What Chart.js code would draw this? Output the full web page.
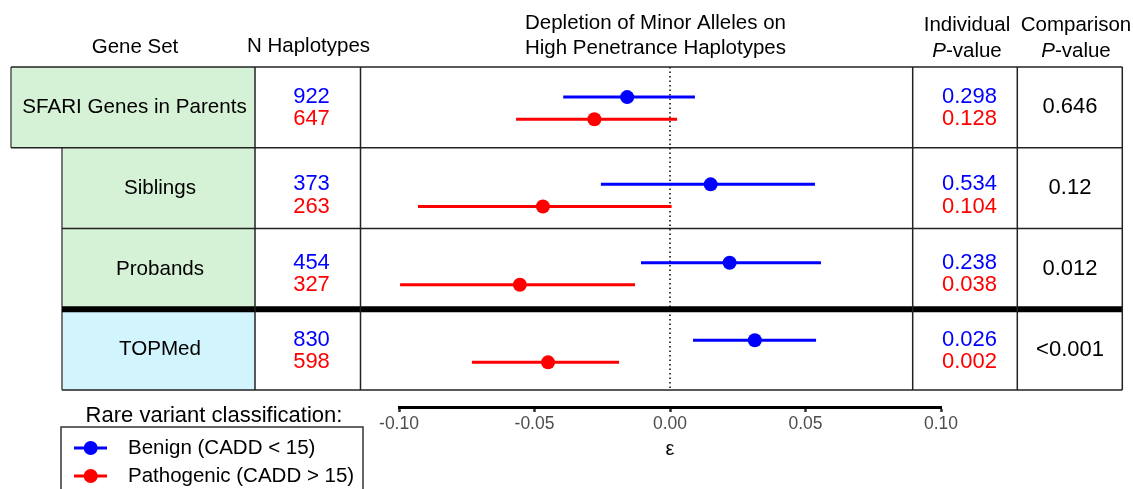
<!DOCTYPE html>
<html>
<head>
<meta charset="utf-8">
<script src="https://cdn.jsdelivr.net/npm/chart.js@4"></script>
<style>
    body { margin: 0; background: #fff; }
    canvas { display: block; }
</style>
</head>
<body>
<canvas id="forest" width="1133" height="489"></canvas>
<script>
const geneSets = ['SFARI Genes in Parents', 'Siblings', 'Probands', 'TOPMed'];
const nBenign = [922, 373, 454, 830];
const nPatho = [647, 263, 327, 598];

const benignEst = [-0.0158, 0.0150, 0.0220, 0.0313];
const benignLo = [-0.0394, -0.0255, -0.0107, 0.0085];
const benignHi = [0.0092, 0.0535, 0.0557, 0.0539];

const pathoEst = [-0.0279, -0.0469, -0.0554, -0.0450];
const pathoLo = [-0.0568, -0.0930, -0.0996, -0.0731];
const pathoHi = [0.0026, 0.0006, -0.0129, -0.0188];

const pBenign = ['0.298', '0.534', '0.238', '0.026'];
const pPatho = ['0.128', '0.104', '0.038', '0.002'];
const pCompare = ['0.646', '0.12', '0.012', '<0.001'];

const xTicks = [-0.10, -0.05, 0.00, 0.05, 0.10];
const legendLabels = ['Benign (CADD < 15)', 'Pathogenic (CADD > 15)'];

// row layout on the y scale (one unit per table row)
const rowMid = [0.51, 1.59, 2.56, 3.52];
const dodge = 0.137;
const BLUE = '#0000ff';
const RED = '#ff0000';
const FONT = "'Liberation Sans', Arial, sans-serif";
const HEAD = 20.5;

function ciDataset(lo, hi, y, color) {
    return {
        data: [{x: lo, y: y}, {x: hi, y: y}],
        showLine: true,
        borderColor: color,
        borderWidth: 3,
        pointRadius: 0,
        clip: false
    };
}

const datasets = [];
geneSets.forEach((g, i) => {
    datasets.push(ciDataset(benignLo[i], benignHi[i], rowMid[i] - dodge, BLUE));
    datasets.push(ciDataset(pathoLo[i], pathoHi[i], rowMid[i] + dodge, RED));
});
datasets.push({
    data: benignEst.map((v, i) => ({x: v, y: rowMid[i] - dodge})),
    backgroundColor: BLUE, borderWidth: 0, pointRadius: 7, clip: false
});
datasets.push({
    data: pathoEst.map((v, i) => ({x: v, y: rowMid[i] + dodge})),
    backgroundColor: RED, borderWidth: 0, pointRadius: 7, clip: false
});

function text(ctx, str, x, y, size, color, align) {
    ctx.font = `${size}px ${FONT}`;
    ctx.fillStyle = color || '#000';
    ctx.textAlign = align || 'center';
    ctx.textBaseline = 'middle';
    ctx.fillText(str, x, y);
}

function pValueHeader(ctx, cx, y) {
    ctx.textBaseline = 'middle';
    ctx.textAlign = 'left';
    ctx.fillStyle = '#000';
    ctx.font = `italic ${HEAD}px ${FONT}`;
    const wP = ctx.measureText('P').width;
    ctx.font = `${HEAD}px ${FONT}`;
    const wRest = ctx.measureText('-value').width;
    const x0 = cx - (wP + wRest) / 2;
    ctx.font = `italic ${HEAD}px ${FONT}`;
    ctx.fillText('P', x0, y);
    ctx.font = `${HEAD}px ${FONT}`;
    ctx.fillText('-value', x0 + wP, y);
}

function line(ctx, x1, y1, x2, y2, w, color, dash) {
    ctx.save();
    ctx.beginPath();
    ctx.lineWidth = w;
    ctx.strokeStyle = color;
    if (dash) ctx.setLineDash(dash);
    ctx.moveTo(x1, y1);
    ctx.lineTo(x2, y2);
    ctx.stroke();
    ctx.restore();
}

const tablePlugin = {
    id: 'table',
    beforeDatasetsDraw(chart) {
        const ctx = chart.ctx;
        const xs = chart.scales.x;
        const ys = chart.scales.y;
        const rowTop = i => ys.getPixelForValue(i);
        const colN = 255, colPlot = 360.5, colP = 912.7, colC = 1017.3, colEnd = 1122.3;
        const top = rowTop(0), bottom = rowTop(4);

        // label cells
        geneSets.forEach((g, i) => {
            const left = i === 0 ? 11 : 62;
            ctx.fillStyle = i === 3 ? '#d2f4fc' : '#d6f2d6';
            ctx.fillRect(left, rowTop(i), colN - left, rowTop(i + 1) - rowTop(i));
        });
        line(ctx, 11, top, 11, rowTop(1), 1.5, '#555');
        line(ctx, 62, rowTop(1), 62, bottom, 2, '#777');

        // zero reference
        const x0 = xs.getPixelForValue(0);
        line(ctx, x0, top, x0, bottom, 1.5, '#000', [1.5, 3]);

        // grid of the table
        line(ctx, 11, top, colEnd, top, 1.5, '#222');
        line(ctx, 11, rowTop(1), colEnd, rowTop(1), 1.5, '#222');
        line(ctx, 62, rowTop(2), colEnd, rowTop(2), 1.5, '#222');
        line(ctx, 62, rowTop(3), colEnd, rowTop(3), 6, '#000');
        line(ctx, 62, bottom, colEnd, bottom, 1.5, '#222');
        [colN, colPlot, colP, colC, colEnd].forEach(x => line(ctx, x, top, x, bottom, 1.5, '#222'));

        // headers
        text(ctx, 'Gene Set', 135, 47, HEAD);
        text(ctx, 'N Haplotypes', 308.5, 46, HEAD);
        text(ctx, 'Depletion of Minor Alleles on', 525, 23, HEAD, '#000', 'left');
        text(ctx, 'High Penetrance Haplotypes', 525, 48, HEAD, '#000', 'left');
        text(ctx, 'Individual', 967, 25, HEAD);
        pValueHeader(ctx, 967, 51);
        text(ctx, 'Comparison', 1076, 25, HEAD);
        pValueHeader(ctx, 1076, 51);

        // cell contents
        geneSets.forEach((g, i) => {
            const left = i === 0 ? 11 : 62;
            const mid = (rowTop(i) + rowTop(i + 1)) / 2;
            text(ctx, g, (left + colN) / 2 + 1.5, mid, 20.6);
            const yb = ys.getPixelForValue(rowMid[i] - dodge);
            const yr = ys.getPixelForValue(rowMid[i] + dodge);
            text(ctx, String(nBenign[i]), 311.5, yb, 22, BLUE);
            text(ctx, String(nPatho[i]), 311.5, yr, 22, RED);
            text(ctx, pBenign[i], 969.5, yb, 22, BLUE);
            text(ctx, pPatho[i], 969.5, yr, 22, RED);
            text(ctx, pCompare[i], 1070, mid, 22);
        });

        // legend
        text(ctx, 'Rare variant classification:', 214, 416, 22);
        ctx.save();
        ctx.lineWidth = 1.5;
        ctx.strokeStyle = '#333';
        ctx.strokeRect(61, 427, 302, 80);
        ctx.restore();
        [BLUE, RED].forEach((c, k) => {
            const y = 448 + k * 28;
            line(ctx, 74, y, 107, y, 3, c);
            ctx.beginPath();
            ctx.fillStyle = c;
            ctx.arc(90.7, y, 7, 0, Math.PI * 2);
            ctx.fill();
            text(ctx, legendLabels[k], 128, y, 20.5, '#000', 'left');
        });
    }
};

const ctx = document.getElementById('forest').getContext('2d');
new Chart(ctx, {
    type: 'scatter',
    data: { datasets: datasets },
    options: {
        responsive: false,
        animation: false,
        devicePixelRatio: 1,
        layout: { padding: { left: 399, right: 192, top: 67, bottom: 0 } },
        plugins: { legend: { display: false }, tooltip: { enabled: false } },
        scales: {
            x: {
                type: 'linear',
                min: -0.1,
                max: 0.1,
                afterFit(scale) { scale.height = 82; },
                afterBuildTicks(scale) { scale.ticks = xTicks.map(v => ({value: v})); },
                ticks: {
                    callback: v => v.toFixed(2),
                    color: '#4d4d4d',
                    font: { family: FONT, size: 17.5 },
                    padding: 2,
                    maxRotation: 0,
                    autoSkip: false
                },
                grid: { drawOnChartArea: false, drawTicks: true, tickLength: 5, tickWidth: 2.5, color: '#333' },
                border: { display: true, color: '#000', width: 3 },
                title: {
                    display: true,
                    text: 'ε',
                    color: '#000',
                    font: { family: FONT, size: 20 },
                    padding: { top: 0, bottom: 28 }
                }
            },
            y: { type: 'linear', display: false, min: 0, max: 4.21, reverse: true }
        }
    },
    plugins: [tablePlugin]
});
</script>
</body>
</html>
